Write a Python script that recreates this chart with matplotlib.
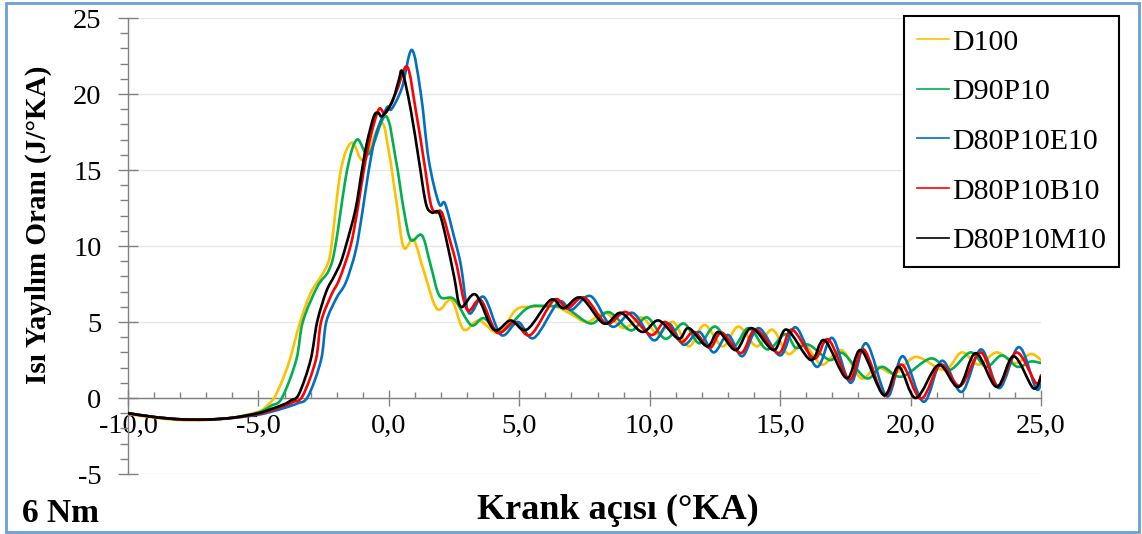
import numpy as np
import matplotlib
matplotlib.use("Agg")
import matplotlib.pyplot as plt
from matplotlib.path import Path
from matplotlib.patches import PathPatch, Rectangle
from matplotlib.lines import Line2D
from matplotlib.ticker import MultipleLocator, FuncFormatter

plt.rcParams['font.family'] = ['Liberation Serif', 'DejaVu Serif']

# ---- data (crank angle, heat release rate) ----
d100_x = [-10, -9, -8, -7, -6, -5, -4.7, -4.4, -4.1, -3.8, -3.4, -3.0, -2.6, -2.35, -2.2,
          -1.84, -1.42, -0.96, -0.3, 0.0, 0.3, 0.57, 0.95, 1.35, 1.85, 2.4, 2.87, 3.45,
          4.2, 4.87, 5.5, 6.4, 7.0, 7.6, 8.3, 9.0, 9.7, 10.3, 10.9, 11.5, 12.1, 12.8,
          13.4, 14.1, 14.7, 15.3, 15.9, 16.6, 17.36, 18.1, 18.7, 19.4, 20.2, 21.3, 21.96,
          22.6, 23.3, 24.0, 24.6, 25.0]
d100_y = [-1.05, -1.3, -1.45, -1.45, -1.3, -0.9, -0.55, 0.0, 1.1, 2.5, 5.0, 6.9, 8.0, 8.8, 10.0,
          15.0, 16.8, 15.65, 18.1, 16.2, 12.8, 9.9, 10.4, 8.3, 5.85, 6.45, 4.5, 5.1,
          4.3, 5.8, 6.0, 6.0, 5.5, 5.0, 5.6, 4.6, 5.3, 4.2, 5.0, 3.4, 4.8, 3.4,
          4.7, 3.4, 4.5, 2.9, 3.6, 2.2, 3.15, 1.3, 2.05, 1.6, 2.7, 1.85, 3.0,
          2.2, 3.0, 2.3, 2.9, 2.5]

d90p10_x = [-10, -9, -8, -7, -6, -5, -4.5, -4.1, -3.55, -3.3, -2.75, -2.3, -2.05, -1.6,
            -1.22, -0.77, -0.12, 0.27, 0.57, 0.84, 1.27, 1.6, 1.95, 2.5, 3.15, 3.64, 4.3,
            5.3, 6.0, 6.8, 7.74, 8.43, 9.27, 9.9, 10.6, 11.3, 11.9, 12.5, 13.2, 13.8, 14.5,
            15.2, 15.6, 16.1, 16.9, 17.4, 18.3, 18.9, 19.65, 20.77, 21.5, 22.3, 22.9, 23.5,
            24.1, 24.6, 25.0]
d90p10_y = [-1.0, -1.25, -1.4, -1.42, -1.3, -0.95, -0.5, 0.0, 2.5, 5.0, 7.3, 8.4, 10.0, 15.0,
            17.0, 16.05, 18.55, 15.65, 12.4, 10.4, 10.7, 8.75, 6.7, 6.5, 4.8, 5.25, 4.35,
            5.9, 6.05, 5.9, 4.9, 5.65, 4.45, 5.3, 3.9, 4.9, 3.6, 4.7, 3.4, 4.6, 3.2,
            4.2, 3.3, 3.5, 2.5, 2.95, 1.3, 2.05, 1.4, 2.6, 1.85, 3.0, 2.05, 2.8,
            2.05, 2.4, 2.3]

d80p10e10_x = [-10, -9, -8, -7, -6, -5, -4.5, -4.0, -3.5, -3.1, -2.6, -2.4, -2.0, -1.65, -1.27,
               -1.0, -0.77, -0.5, -0.08, 0.1, 0.5, 0.88, 1.22, 1.53, 1.92, 2.15, 2.5, 2.76,
               3.07, 3.64, 4.3, 4.95, 5.56, 6.5, 7.0, 7.74, 8.55, 9.35, 10.15, 10.73, 11.3,
               11.9, 12.45, 13.0, 13.55, 14.17, 15.0, 15.6, 16.4, 17.0, 17.7, 18.3, 19.1,
               19.7, 20.5, 21.2, 21.96, 22.7, 23.4, 24.15, 24.8, 25.0]
d80p10e10_y = [-1.0, -1.25, -1.4, -1.42, -1.32, -1.1, -0.9, -0.65, -0.35, 0.1, 2.5, 5.0, 6.6, 7.6, 9.7,
               12.4, 15.0, 17.3, 19.1, 19.0, 20.4, 22.9, 20.1, 15.65, 12.8, 12.8, 10.6, 8.75,
               5.6, 6.65, 4.15, 5.0, 3.95, 6.3, 5.8, 6.7, 4.7, 5.6, 3.8, 4.9, 3.5,
               4.35, 3.0, 4.15, 2.75, 4.6, 2.8, 4.65, 2.05, 3.95, 1.0, 3.6, 0.1,
               2.75, -0.25, 2.45, 0.4, 3.2, 0.65, 3.35, 0.65, 1.0]

d80p10b10_x = [-10, -9, -8, -7, -6, -5, -4.5, -4.0, -3.65, -3.3, -2.8, -2.6, -2.2, -1.9, -1.47,
               -1.2, -0.96, -0.7, -0.38, -0.12, 0.3, 0.7, 1.03, 1.34, 1.6, 1.8, 2.03, 2.37,
               2.6, 3.0, 3.52, 4.15, 4.8, 5.43, 6.33, 6.85, 7.5, 8.35, 9.1, 10.04, 10.6,
               11.2, 11.7, 12.3, 12.76, 13.5, 14.06, 14.94, 15.45, 16.3, 16.85, 17.65, 18.2,
               19.0, 19.65, 20.4, 21.15, 21.9, 22.68, 23.35, 24.06, 24.8, 25.0]
d80p10b10_y = [-1.0, -1.25, -1.4, -1.42, -1.3, -1.05, -0.8, -0.5, -0.25, 0.15, 2.5, 5.0, 6.8, 7.8, 10.0,
               12.4, 15.0, 17.2, 19.0, 18.75, 20.2, 21.8, 18.95, 15.65, 12.8, 12.2, 12.2, 10.2,
               8.75, 5.8, 6.45, 4.3, 5.0, 4.15, 6.45, 5.9, 6.6, 4.9, 5.65, 4.15, 5.0,
               3.7, 4.35, 3.3, 4.3, 2.96, 4.5, 2.96, 4.5, 2.6, 3.85, 1.2, 3.2,
               0.15, 2.2, -0.05, 2.2, 0.8, 3.0, 0.8, 3.0, 1.0, 1.5]

d80p10m10_x = [-10, -9, -8, -7, -6, -5, -4.5, -4.0, -3.75, -3.45, -3.0, -2.75, -2.4, -2.1, -1.85,
               -1.65, -1.28, -1.03, -0.84, -0.57, -0.4, -0.25, 0.13, 0.38, 0.52, 0.84, 1.15,
               1.42, 1.65, 1.92, 2.18, 2.5, 2.76, 3.33, 4.02, 4.67, 5.29, 6.2, 6.7, 7.36,
               8.24, 8.9, 9.7, 10.34, 11.1, 11.5, 12.2, 12.64, 13.3, 13.9, 14.75, 15.25,
               16.17, 16.7, 17.55, 18.1, 18.97, 19.54, 20.2, 21.07, 21.84, 22.5, 23.3, 23.95,
               24.7, 25.0]
d80p10m10_y = [-1.0, -1.25, -1.4, -1.42, -1.3, -1.0, -0.72, -0.4, -0.15, 0.25, 2.5, 5.0, 7.0, 8.0, 8.9,
               10.0, 12.4, 15.0, 16.8, 18.55, 18.75, 18.55, 19.5, 20.9, 21.45, 18.95, 15.65,
               12.8, 12.2, 12.2, 10.6, 8.0, 6.0, 6.8, 4.5, 5.1, 4.5, 6.45, 5.9, 6.6,
               4.9, 5.6, 4.35, 5.1, 3.9, 4.6, 3.4, 4.35, 3.15, 4.6, 3.15, 4.5,
               2.5, 3.8, 1.3, 3.15, 0.2, 2.05, 0.0, 2.17, 0.73, 2.95, 0.73, 2.75,
               0.65, 1.4]

labels = ['D100', 'D90P10', 'D80P10E10', 'D80P10B10', 'D80P10M10']
colors = ['#FFC000', '#00B050', '#0070C0', '#FF0000', '#000000']
series = [(d100_x, d100_y), (d90p10_x, d90p10_y), (d80p10e10_x, d80p10e10_y),
          (d80p10b10_x, d80p10b10_y), (d80p10m10_x, d80p10m10_y)]


def smoothed_line(xs, ys):
    # Excel "smoothed line": cubic Bezier through every data point
    pts = np.column_stack([xs, ys]).astype(float)
    n = len(pts)
    verts = [pts[0]]
    codes = [Path.MOVETO]
    for i in range(n - 1):
        p0 = pts[max(i - 1, 0)]
        p1 = pts[i]
        p2 = pts[i + 1]
        p3 = pts[min(i + 2, n - 1)]
        verts += [p1 + (p2 - p0) / 6.0, p2 - (p3 - p1) / 6.0, p2]
        codes += [Path.CURVE4] * 3
    return Path(verts, codes)


W, H = 1142, 534
fig = plt.figure(figsize=(W / 100, H / 100), dpi=100)
ax = fig.add_axes([128 / W, 1 - 474 / H, (1041 - 128) / W, (474 - 18) / H])

ax.set_xlim(-10, 25)
ax.set_ylim(-5, 25)

handles = []
for (xs, ys), col, lab in zip(series, colors, labels):
    ax.add_patch(PathPatch(smoothed_line(xs, ys), facecolor='none', edgecolor=col,
                           lw=1.9, capstyle='round', joinstyle='round', zorder=3))
    handles.append(Line2D([], [], color=col, lw=1.2, label=lab))

# axes look
for s in ('top', 'right'):
    ax.spines[s].set_visible(False)
ax.spines['bottom'].set_position(('data', 0))
for s in ('left', 'bottom'):
    ax.spines[s].set_color('#808080')
    ax.spines[s].set_linewidth(1.0)

ax.xaxis.set_major_locator(MultipleLocator(5))
ax.xaxis.set_minor_locator(MultipleLocator(1))
ax.yaxis.set_major_locator(MultipleLocator(5))
ax.yaxis.set_minor_locator(MultipleLocator(1))
ax.xaxis.set_major_formatter(FuncFormatter(lambda v, p: f"{v:.1f}".replace('.', ',')))
ax.yaxis.set_major_formatter(FuncFormatter(lambda v, p: f"{v:.0f}"))

ax.tick_params(axis='x', which='major', direction='inout', length=11, width=1.0,
               color='#808080', labelsize=20.5, pad=6)
ax.tick_params(axis='x', which='minor', direction='in', length=4, width=1.0, color='#808080')
ax.tick_params(axis='y', which='major', direction='inout', length=14, width=1.0,
               color='#808080', labelsize=20.5, pad=12)
ax.tick_params(axis='y', which='minor', direction='out', length=6, width=1.0, color='#808080')

ax.grid(axis='y', which='major', color='#e6e6e6', lw=1.0, zorder=0)
ax.set_axisbelow(True)

ax.set_xlabel('Krank açısı (°KA)', fontsize=26, fontweight='bold')
ax.xaxis.set_label_coords((618 - 128) / 913, (474 - 510) / 456)
ax.xaxis.label.set_verticalalignment('center')
ax.set_ylabel('Isı Yayılım Oranı (J/°KA)', fontsize=21, fontweight='bold')
ax.yaxis.set_label_coords((38 - 128) / 913, (474 - 225) / 456)
ax.yaxis.label.set_verticalalignment('center')

fig.text(22 / W, 1 - 513 / H, '6 Nm', fontsize=24, fontweight='bold', ha='left', va='center')

leg = fig.legend(handles=handles, loc='upper right', bbox_to_anchor=(1119 / W, 1 - 16 / H),
                 bbox_transform=fig.transFigure, fontsize=21.5, frameon=True, fancybox=False,
                 edgecolor='black', framealpha=1, handlelength=1.05, handletextpad=0.12,
                 labelspacing=0.76, borderpad=0.43, borderaxespad=0)
leg.get_frame().set_linewidth(1.5)

# light blue frame round the whole chart
fig.patches.append(Rectangle((6 / W, 2 / H), (1139 - 6) / W, (531 - 2) / H,
                             transform=fig.transFigure, fill=False,
                             edgecolor='#6a9fd8', lw=2.0))

fig.savefig('out.png', dpi=100)
